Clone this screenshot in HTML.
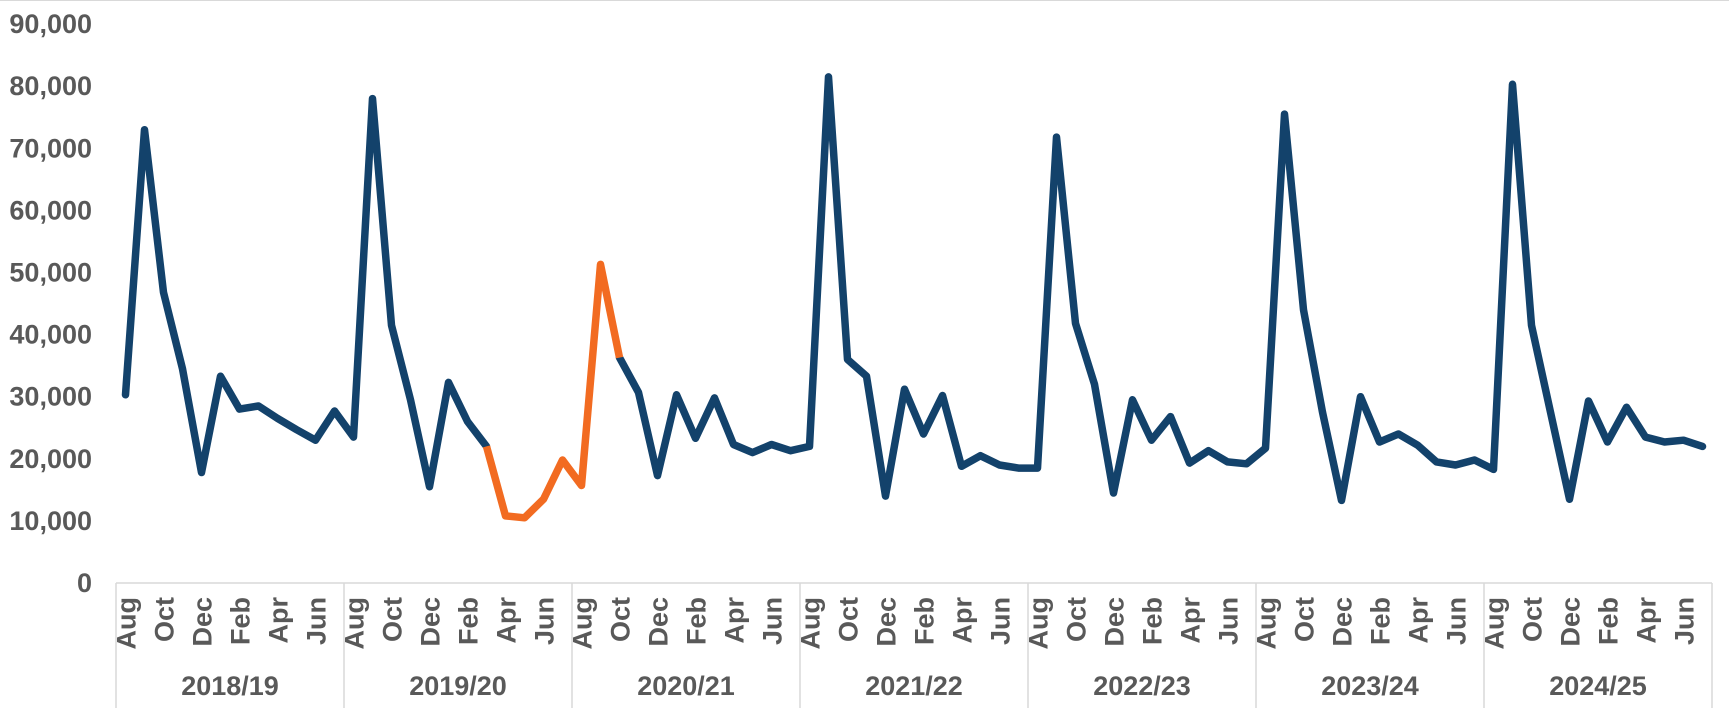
<!DOCTYPE html>
<html><head><meta charset="utf-8"><style>
html,body{margin:0;padding:0;background:#fff;}
svg{display:block;}
text{font-family:"Liberation Sans",Arial,sans-serif;font-weight:bold;fill:#595959;}
</style></head><body>
<svg id="c" width="1729" height="708" xmlns="http://www.w3.org/2000/svg"></svg>
<script>
const vals=[30300,73000,46800,34500,17800,33300,28000,28500,26500,24700,23000,27700,
23500,78000,41500,29500,15500,32300,26000,22000,10800,10500,13500,19800,
15700,51300,36300,30700,17300,30300,23300,29800,22300,21000,22300,21300,
22000,81500,36000,33300,14000,31200,24000,30200,18800,20500,19000,18500,
18500,71800,41800,32000,14500,29500,23000,26800,19300,21300,19500,19200,
21700,75500,44000,27500,13300,30000,22700,24000,22200,19500,19000,19800,
18300,80300,41500,27500,13500,29300,22700,28300,23500,22700,23000,22000];
const x0=116,yw=228,mw=yw/12,y0=583,py=62.1/10000;
const X=i=>x0+mw*(i+0.5), Y=v=>y0-v*py;
let s='<line x1="0" y1="0.5" x2="1729" y2="0.5" stroke="#d9d9d9"/>';
for(let k=0;k<=9;k++){s+=`<text x="92" y="${Y(k*10000)+9}" text-anchor="end" font-size="27">${k==0?'0':(k*10)+',000'}</text>`;}
s+=`<line x1="${x0}" y1="${y0}" x2="${x0+7*yw}" y2="${y0}" stroke="#d9d9d9" stroke-width="1.5"/>`;
for(let k=0;k<=7;k++){s+=`<line x1="${x0+k*yw}" y1="${y0}" x2="${x0+k*yw}" y2="708" stroke="#d9d9d9" stroke-width="1.5"/>`;}
const mn=['Aug','Oct','Dec','Feb','Apr','Jun'];
const yrs=['2018/19','2019/20','2020/21','2021/22','2022/23','2023/24','2024/25'];
for(let y=0;y<7;y++){
 for(let m=0;m<6;m++){const cx=X(y*12+m*2)+10;s+=`<text transform="translate(${cx},597) rotate(-90)" text-anchor="end" font-size="27">${mn[m]}</text>`;}
 s+=`<text x="${x0+y*yw+yw/2}" y="695" text-anchor="middle" font-size="27">${yrs[y]}</text>`;
}
const pts=(a,b)=>{let r=[];for(let i=a;i<=b;i++)r.push(X(i).toFixed(1)+','+Y(vals[i]).toFixed(1));return r.join(' ');};
s+=`<polyline points="${pts(0,19)}" fill="none" stroke="#13426b" stroke-width="7.5" stroke-linejoin="round" stroke-linecap="round"/>`;
s+=`<polyline points="${pts(26,83)}" fill="none" stroke="#13426b" stroke-width="7.5" stroke-linejoin="round" stroke-linecap="round"/>`;
s+=`<polyline points="${pts(19,26)}" fill="none" stroke="#f26b21" stroke-width="7.5" stroke-linejoin="round" stroke-linecap="butt"/>`;
document.getElementById('c').innerHTML=s;
</script>
</body></html>
